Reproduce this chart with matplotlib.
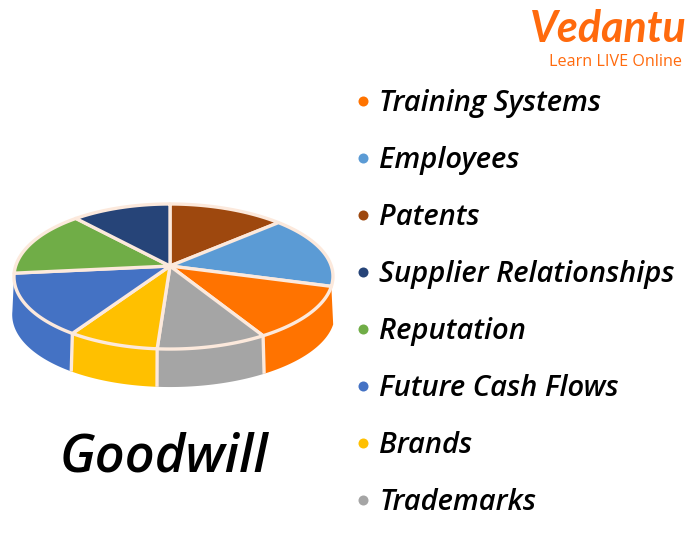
import numpy as np
import matplotlib
matplotlib.use('Agg')
import matplotlib.pyplot as plt

# clockwise from 12 o'clock, same order as drawn on the pie
slices = ['Patents', 'Employees', 'Training Systems', 'Trademarks', 'Brands',
          'Future Cash Flows', 'Reputation', 'Supplier Relationships']
shares = [47.9, 58.1, 43.3, 34.7, 29.4, 50.9, 53.6, 42.1]
slice_colors = ['#9E480E', '#5B9BD5', '#FF7300', '#A5A5A5', '#FFC000',
                '#4472C4', '#70AD47', '#264478']

legend_names = ['Training Systems', 'Employees', 'Patents', 'Supplier Relationships',
                'Reputation', 'Future Cash Flows', 'Brands', 'Trademarks']
title = 'Goodwill'
logo = 'Vedantu'
logo_sub = 'Learn LIVE Online'

edge = '#FCE9DC'
orange_logo = '#FF6A0D'
font = 'Open Sans'


def project(theta, depth=0.0):
    # tilted disc: the far side is foreshortened, so the apex sits above the ellipse centre
    u, v = np.sin(theta), np.cos(theta)
    x = 170 + 157.8 * (1 + 0.022 * u) * (1 + depth * 0.0003) * u / (1 + 0.145 * v)
    y = 266 - 71.0 * v / (1 + 0.145 * v) + depth
    return x, y


fig = plt.figure(figsize=(6.95, 5.34), dpi=100)
ax = fig.add_axes([0, 0, 1, 1])
ax.set_xlim(0, 695)
ax.set_ylim(534, 0)
ax.axis('off')

bounds = np.radians(np.concatenate([[0], np.cumsum(shares)]))
depth = 38

# sides first, only the four front slices show one
for i, col in enumerate(slice_colors):
    if slices[i] not in ('Training Systems', 'Trademarks', 'Brands', 'Future Cash Flows'):
        continue
    t = np.linspace(bounds[i], bounds[i + 1], 60)
    x0, y0 = project(t)
    x1, y1 = project(t, depth)
    ax.fill(np.r_[x0, x1[::-1]], np.r_[y0, y1[::-1]], color=col, lw=0, zorder=1)

# separators on the side
for b in bounds[3:6]:
    x0, y0 = project(b)
    x1, y1 = project(b, depth)
    ax.plot([x0, x1], [y0, y1], color=edge, lw=2.4, zorder=2, solid_capstyle='butt')

# top face
for i, col in enumerate(slice_colors):
    t = np.linspace(bounds[i], bounds[i + 1], 60)
    x0, y0 = project(t)
    ax.fill(np.r_[170, x0], np.r_[266, y0], facecolor=col, edgecolor=edge, lw=2.4,
            joinstyle='round', zorder=3)

# legend
leg_y = np.arange(len(legend_names)) * 57 + 101
for name, y in zip(legend_names, leg_y):
    col = slice_colors[slices.index(name)]
    ax.scatter([363], [y], s=52, color=col, lw=0, zorder=4)
    ax.text(379, y + 2.5, name, family=font, style='italic', weight='semibold', fontsize=21.0,
            color='black', va='center', ha='left')

ax.text(164, 458.5, title, family=font, style='italic', weight='semibold', fontsize=37.6,
        color='black', va='center', ha='center')

# logo
ax.text(530, 29, logo, family='Lato', style='italic', weight='bold', fontsize=31,
        color=orange_logo, va='center', ha='left')
ax.text(549, 62, logo_sub, family=font, fontsize=11.6, color=orange_logo, va='center', ha='left')

fig.savefig('out.png', dpi=100)
